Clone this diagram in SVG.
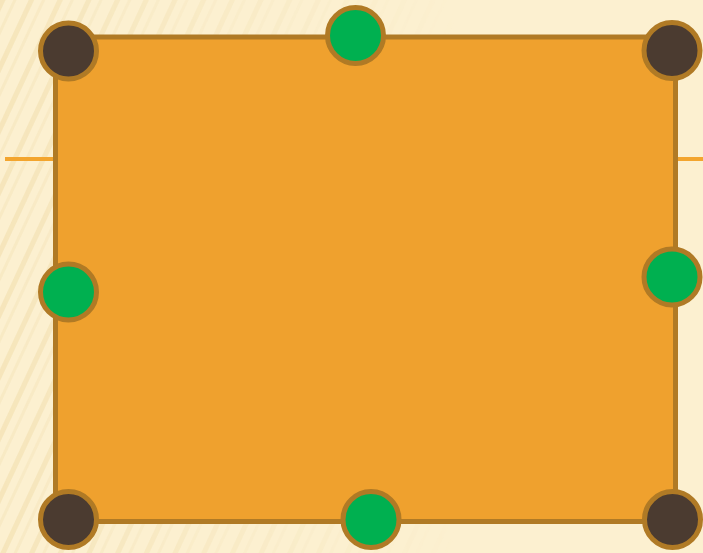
<svg xmlns="http://www.w3.org/2000/svg" width="703" height="553" viewBox="0 0 703 553">
  <defs>
    <pattern id="stripes" width="26" height="26" patternUnits="userSpaceOnUse" patternTransform="rotate(25)">
      <rect x="0" y="0" width="5" height="26" fill="#F1DEAD"/>
      <rect x="12" y="0" width="3" height="26" fill="#F5E5BC"/>
    </pattern>
    <linearGradient id="fade" x1="0" y1="0" x2="1" y2="0">
      <stop offset="0" stop-color="#fff" stop-opacity="0.6"/>
      <stop offset="0.3" stop-color="#fff" stop-opacity="0.3"/>
      <stop offset="0.65" stop-color="#fff" stop-opacity="0"/>
    </linearGradient>
    <mask id="m">
      <rect width="703" height="553" fill="url(#fade)"/>
    </mask>
    <style>
      .rect { fill: #EFA12E; stroke: #B07A25; stroke-width: 5; }
      .corner { fill: #4B3B30; stroke: #B07A25; stroke-width: 5; }
      .mid { fill: #00B050; stroke: #B07A25; stroke-width: 5; }
      .line { stroke: #F3A52E; stroke-width: 4; fill: none; }
    </style>
  </defs>
  <rect width="703" height="553" fill="#FCF0D0"/>
  <rect width="703" height="553" fill="url(#stripes)" mask="url(#m)"/>
  <g id="connectors">
    <line class="line" x1="5" y1="159" x2="56" y2="159"/>
    <line class="line" x1="676" y1="159" x2="703" y2="159"/>
  </g>
  <g id="rectangle">
    <rect class="rect" x="55.5" y="37" width="620" height="484.5"/>
  </g>
  <g id="corner-tl"><circle class="corner" cx="68.5" cy="51" r="28"/></g>
  <g id="corner-tr"><circle class="corner" cx="672" cy="50.5" r="28"/></g>
  <g id="corner-bl"><circle class="corner" cx="68.5" cy="519.5" r="28"/></g>
  <g id="corner-br"><circle class="corner" cx="672.5" cy="519.5" r="28"/></g>
  <g id="mid-top"><circle class="mid" cx="355.5" cy="35.5" r="28"/></g>
  <g id="mid-left"><circle class="mid" cx="68.5" cy="292" r="28"/></g>
  <g id="mid-right"><circle class="mid" cx="672" cy="277" r="28"/></g>
  <g id="mid-bottom"><circle class="mid" cx="371" cy="519.5" r="28"/></g>
</svg>
